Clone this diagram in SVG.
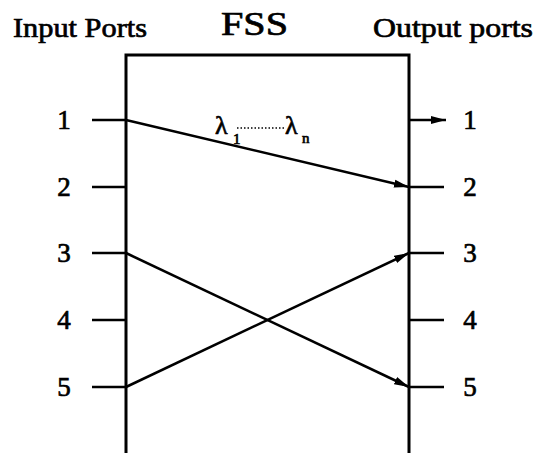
<svg xmlns="http://www.w3.org/2000/svg" width="537" height="453" viewBox="0 0 537 453">
<style>
.t{font-family:"Liberation Serif","Times New Roman",serif;fill:#000;stroke:#000;stroke-width:0.7}
.ln{stroke:#000;stroke-width:2.5;fill:none}
.box{stroke:#000;stroke-width:3;fill:none}
</style>
<defs>
<marker id="ah" markerUnits="userSpaceOnUse" markerWidth="16" markerHeight="10" refX="15" refY="5" orient="auto">
<path d="M0,1 L15,5 L0,9 Z" fill="#000"/>
</marker>
</defs>
<rect width="537" height="453" fill="#fff"/>
<g id="titles">
<text class="t" x="13" y="37" font-size="28" textLength="134" lengthAdjust="spacingAndGlyphs">Input Ports</text>
<text class="t" x="221" y="35" font-size="33" textLength="67" lengthAdjust="spacingAndGlyphs" stroke-width="1.2">FSS</text>
<text class="t" x="373" y="37" font-size="28" textLength="160" lengthAdjust="spacingAndGlyphs">Output ports</text>
</g>
<g id="fss-box">
<path class="box" d="M126,453 V55 H409 V453"/>
</g>
<g id="input-ports">
<path class="ln" d="M92,120 H126 M92,187 H126 M92,253 H126 M92,320 H126 M92,387 H126"/>
<g class="t" font-size="27" text-anchor="middle">
<text x="64" y="129">1</text>
<text x="64" y="196">2</text>
<text x="64" y="262">3</text>
<text x="64" y="329">4</text>
<text x="64" y="396">5</text>
</g>
</g>
<g id="output-ports">
<path class="ln" d="M409,187 H444 M409,253 H444 M409,320 H444 M409,387 H444"/>
<g class="t" font-size="27" text-anchor="middle">
<text x="470" y="129">1</text>
<text x="470" y="196">2</text>
<text x="470" y="262">3</text>
<text x="470" y="329">4</text>
<text x="470" y="396">5</text>
</g>
</g>
<g id="connectors">
<line class="ln" x1="409" y1="120" x2="446" y2="120" marker-end="url(#ah)"/>
<line class="ln" x1="126" y1="120" x2="409" y2="187" marker-end="url(#ah)"/>
<line class="ln" x1="126" y1="253" x2="409" y2="387" marker-end="url(#ah)"/>
<line class="ln" x1="126" y1="387" x2="409" y2="253" marker-end="url(#ah)"/>
</g>
<g id="wavelengths">
<text class="t" x="215" y="134" font-size="26" stroke-width="1">λ</text>
<text class="t" x="233" y="144" font-size="15" stroke-width="0.5">1</text>
<line x1="237" y1="128" x2="285" y2="128" stroke="#000" stroke-width="1.5" stroke-dasharray="1.5,2"/>
<text class="t" x="285" y="134" font-size="26" stroke-width="1">λ</text>
<text class="t" x="302" y="143" font-size="15" stroke-width="0.5">n</text>
</g>
</svg>
